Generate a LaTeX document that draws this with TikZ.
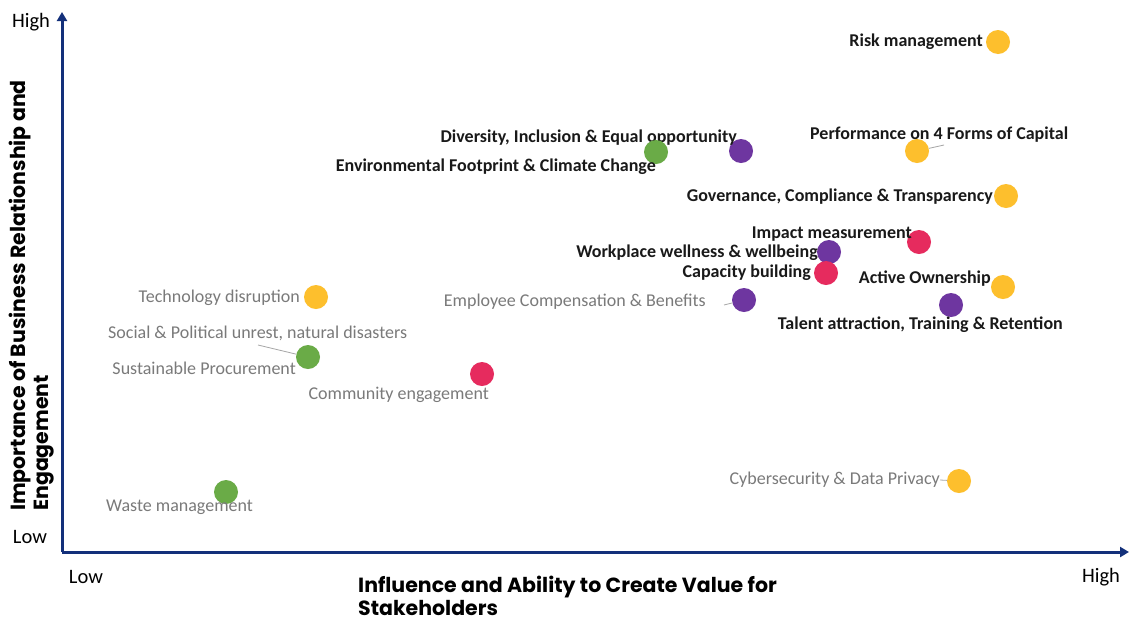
\documentclass[tikz,border=0pt]{standalone}
\usepackage{fontspec}
\setmainfont{Carlito}
\newfontfamily\titlefont{Poppins}
\usetikzlibrary{arrows.meta}
\definecolor{axisblue}{HTML}{13307A}
\definecolor{dotyellow}{HTML}{FDBF2D}
\definecolor{dotgreen}{HTML}{6AAB47}
\definecolor{dotpurple}{HTML}{6E36A0}
\definecolor{dotred}{HTML}{E62B5E}
\definecolor{minorgray}{HTML}{7A7A7A}
\tikzset{
    dot/.style={circle, fill=#1, minimum size=24pt, inner sep=0pt},
    keylabel/.style={font=\fontsize{18}{20}\selectfont\bfseries, text=black!90, inner sep=0pt},
    minorlabel/.style={font=\fontsize{18}{20}\selectfont, text=minorgray, inner sep=0pt},
    scalelabel/.style={font=\fontsize{20.5}{22}\selectfont, text=black, inner sep=0pt},
    axistitle/.style={font=\fontsize{20.5}{23}\selectfont\titlefont\bfseries, text=black, inner sep=0pt, align=left},
    leader/.style={draw=gray!70, line width=0.8pt}
}
\begin{document}
\begin{tikzpicture}[x=1pt, y=-1pt]
    \useasboundingbox[fill=white] (0,0) rectangle (1129,622);
    % axes
    \coordinate (origin) at (62,552);
    \coordinate (ytop) at (62,12);
    \coordinate (xend) at (1129,552);
    \draw[axisblue, line width=3pt, -{Triangle[length=9pt,width=10pt]}] (origin) -- (ytop);
    \draw[axisblue, line width=3pt, -{Triangle[length=9pt,width=10pt]}] (origin) -- (xend);
    \node[scalelabel] (yhigh) at (31,22) {High};
    \node[scalelabel] (ylow) at (30,537) {Low};
    \node[scalelabel] (xlow) at (86,577) {Low};
    \node[scalelabel] (xhigh) at (1101,577) {High};
    \node[axistitle, anchor=north west] (xtitle) at (358,576) {Influence and Ability to Create Value for\\Stakeholders};
    \node[axistitle, anchor=north west, rotate=90] (ytitle) at (9,511) {Importance of Business Relationship and\\Engagement};

    % high-priority topics
    \node[dot=dotyellow] (riskdot) at (998,42) {};
    \node[keylabel, anchor=east] (risk) at (983,42) {Risk management};
    \node[dot=dotpurple] (diverdot) at (741,151) {};
    \node[keylabel, anchor=east] (diver) at (737,138) {Diversity, Inclusion \& Equal opportunity};
    \node[dot=dotgreen] (envdot) at (656,152) {};
    \node[keylabel, anchor=east] (env) at (656,167) {Environmental Footprint \& Climate Change};
    \node[dot=dotyellow] (perfdot) at (917,151) {};
    \node[keylabel, anchor=west] (perf) at (810,135) {Performance on 4 Forms of Capital};
    \coordinate (perftip) at (944,145);
    \node[dot=dotyellow] (govdot) at (1006,196) {};
    \node[keylabel, anchor=east] (gov) at (993,197) {Governance, Compliance \& Transparency};
    \node[dot=dotred] (impactdot) at (919,242) {};
    \node[keylabel, anchor=east] (impact) at (912,234) {Impact measurement};
    \node[dot=dotpurple] (welldot) at (829,252) {};
    \node[keylabel, anchor=east] (well) at (818,253) {Workplace wellness \& wellbeing};
    \node[dot=dotred] (capdot) at (826,273) {};
    \node[keylabel, anchor=east] (cap) at (811,273) {Capacity building};
    \node[dot=dotyellow] (activedot) at (1003,287) {};
    \node[keylabel, anchor=east] (active) at (991,279) {Active Ownership};
    \node[dot=dotpurple] (talentdot) at (951,305) {};
    \node[keylabel, anchor=east] (talent) at (1063,325) {Talent attraction, Training \& Retention};

    % lower-priority topics
    \node[dot=dotpurple] (empdot) at (744,300) {};
    \node[minorlabel, anchor=east] (emp) at (706,302) {Employee Compensation \& Benefits};
    \coordinate (emptip) at (724,305);
    \node[dot=dotyellow] (techdot) at (316,297) {};
    \node[minorlabel, anchor=east] (tech) at (300,298) {Technology disruption};
    \node[minorlabel, anchor=west] (social) at (108,333) {Social \& Political unrest, natural disasters};
    \coordinate (socialtip) at (258,345);
    \node[dot=dotgreen] (procdot) at (308,357) {};
    \node[minorlabel, anchor=east] (proc) at (296,368) {Sustainable Procurement};
    \node[dot=dotred] (commdot) at (482,374) {};
    \node[minorlabel, anchor=east] (comm) at (489,395) {Community engagement};
    \node[dot=dotgreen] (wastedot) at (226,492) {};
    \node[minorlabel, anchor=west] (waste) at (106,507) {Waste management};
    \node[dot=dotyellow] (cyberdot) at (959,481) {};
    \node[minorlabel, anchor=east] (cyber) at (940,480) {Cybersecurity \& Data Privacy};

    % leader lines
    \draw[leader] (perfdot) -- (perftip);
    \draw[leader] (emptip) -- (empdot);
    \draw[leader] (socialtip) -- (procdot);
    \draw[leader] (cyber.east) -- (cyberdot);
\end{tikzpicture}
\end{document}
